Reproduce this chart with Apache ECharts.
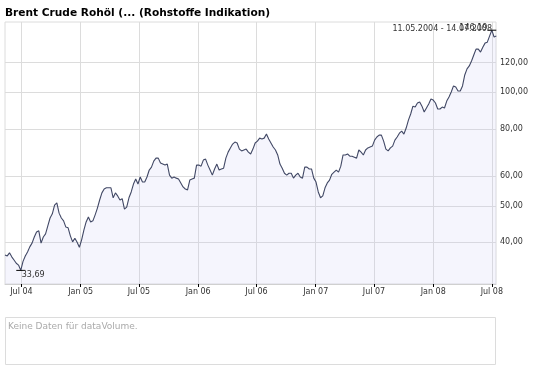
<!DOCTYPE html>
<html><head><meta charset="utf-8">
<script src="https://cdn.jsdelivr.net/npm/echarts@6/dist/echarts.min.js"></script>
<style>html,body{margin:0;padding:0;background:#fff}#c{width:545px;height:370px}</style>
</head><body><div id="c"></div>
<script>
const TITLE = 'Brent Crude Rohöl (... (Rohstoffe Indikation)';
const RANGE_TEXT = '11.05.2004 - 14.07.2008';
const VOLUME_TEXT = 'Keine Daten für dataVolume.';
const START_DATE = '2004-05-11';
const END_DATE = '2008-07-14';
const STEP_DAYS = 7;
const prices = [
37.0,36.8,37.5,36.6,35.9,35.2,34.8,33.69,35.6,36.8,
37.7,38.9,39.8,41.3,42.6,42.9,39.8,41.3,42.1,44.2,
46.4,47.6,50.2,50.9,47.8,46.4,45.6,43.9,43.7,41.6,
40.1,41.0,40.0,38.8,40.6,43.1,45.3,46.7,45.3,45.6,
47.3,49.3,51.8,54.1,55.4,55.8,55.8,55.8,52.5,54.1,
53.1,51.8,52.2,49.0,49.6,52.5,54.4,57.1,58.9,57.1,
59.6,57.8,57.8,59.6,62.2,63.3,65.7,66.9,66.9,64.9,
64.5,64.1,64.5,60.3,59.2,59.6,59.2,58.9,57.5,56.1,
55.4,55.1,58.5,58.9,59.2,64.1,64.1,63.7,66.1,66.5,
64.1,62.2,60.3,62.6,64.5,62.2,62.6,62.9,66.9,69.4,
71.2,72.9,73.8,73.4,70.7,69.9,70.3,70.7,69.4,68.6,
70.7,73.4,74.2,75.6,75.2,75.6,77.5,75.2,73.4,71.6,
70.3,68.2,64.5,62.9,61.0,60.3,61.0,61.0,59.2,60.3,
61.0,59.6,59.2,63.3,63.3,62.6,62.6,59.2,57.8,54.4,
52.5,53.1,55.8,57.5,58.5,60.6,61.4,62.2,61.4,63.7,
68.2,68.2,68.6,67.7,67.7,67.3,66.9,70.3,69.4,68.2,
70.3,71.2,71.6,72.0,74.7,76.1,77.0,77.0,74.2,70.7,
69.9,71.2,72.0,74.7,76.1,77.9,78.9,77.5,80.4,84.4,
87.6,91.9,91.4,93.7,94.3,91.9,88.7,90.9,93.1,96.0,
95.4,93.7,90.3,90.3,91.4,90.9,94.8,97.2,100.2,104.0,
103.3,100.8,100.8,104.0,111.2,115.4,117.5,121.1,125.6,130.2,
130.2,127.9,131.8,135.1,135.9,141.0,146.19,140.2,141.0
];
const xTickDates = ['2004-07-01','2005-01-01','2005-07-01','2006-01-01','2006-07-01','2007-01-01','2007-07-01','2008-01-01','2008-07-01'];
const xTickLabels = ['Jul 04','Jan 05','Jul 05','Jan 06','Jul 06','Jan 07','Jul 07','Jan 08','Jul 08'];
const yTicks = [40,50,60,80,100,120];
const Y_MIN = 31.0, Y_MAX = 153.7;

const DAY = 86400000;
function utc(s){const a=s.split('-').map(Number);return Date.UTC(a[0],a[1]-1,a[2]);}
const t0 = utc(START_DATE);
const seriesData = prices.map((p,i)=>[t0 + i*STEP_DAYS*DAY, p]);
const tickTs = xTickDates.map(utc);
const labelFor = v => { let best='', bd=Infinity; tickTs.forEach((t,i)=>{const d=Math.abs(t-v); if(d<bd){bd=d;best=xTickLabels[i];}}); return bd < DAY ? best : ''; };
const fmt = v => (+v).toFixed(2).replace('.', ',');
const FONT = 'DejaVu Sans';

const chart = echarts.init(document.getElementById('c'), null, {renderer:'canvas'});
chart.setOption({
  animation:false,
  textStyle:{fontFamily:FONT},
  grid:{left:5, top:22, right:49, bottom:86, show:true, borderColor:'#dcdcdc', borderWidth:1, backgroundColor:'transparent'},
  xAxis:{
    type:'value', min:utc(START_DATE), max:utc(END_DATE), scale:true,
    axisLine:{show:true, onZero:false, lineStyle:{color:'#d0d0d0', width:1}},
    axisTick:{show:true, customValues:tickTs, length:3, lineStyle:{color:'#000'}},
    axisLabel:{customValues:tickTs, formatter:v=>labelFor(v), fontSize:8, color:'#333', margin:4, fontFamily:FONT},
    splitLine:{show:true, lineStyle:{color:'#dcdcdc', width:1}}
  },
  yAxis:{
    type:'log', logBase:10, position:'right', min:Y_MIN, max:Y_MAX,
    axisLine:{show:false},
    axisTick:{show:false, customValues:yTicks},
    axisLabel:{customValues:yTicks, formatter:v=>fmt(v), fontSize:8, color:'#333', margin:4, fontFamily:FONT},
    splitLine:{show:true, lineStyle:{color:'#dcdcdc', width:1}}
  },
  series:[{
    type:'line', data:seriesData, showSymbol:false, symbol:'none', clip:true,
    lineStyle:{color:'#414865', width:1.1},
    areaStyle:{color:'rgba(200,200,245,0.27)', origin:'start'},
    emphasis:{disabled:true},
    markPoint:{
      symbol:'rect', symbolSize:[9,1], itemStyle:{color:'#000'},
      label:{show:true, formatter:p=>fmt(p.value), fontSize:8, color:'#333', fontFamily:FONT},
      data:[
        {type:'max', valueDim:'y', label:{position:[0,2], align:'right', verticalAlign:'bottom'}},
        {type:'min', valueDim:'y', label:{position:[5.5,1.5], align:'left', verticalAlign:'top'}}
      ]
    }
  }],
  graphic:[
    {type:'text', x:5, y:13, style:{text:TITLE, font:'bold 10.6px "DejaVu Sans"', fill:'#000', verticalAlign:'middle', align:'left'}},
    {type:'text', x:492, y:28.5, z:10, style:{text:RANGE_TEXT, font:'8px "DejaVu Sans"', fill:'#333', verticalAlign:'middle', align:'right'}},
    {type:'rect', shape:{x:5.5, y:317.5, width:490, height:47}, style:{fill:'#fff', stroke:'#dcdcdc', lineWidth:1}},
    {type:'text', x:8, y:327, style:{text:VOLUME_TEXT, font:'9px "DejaVu Sans"', fill:'#aaa', verticalAlign:'middle', align:'left'}}
  ]
});
</script></body></html>
